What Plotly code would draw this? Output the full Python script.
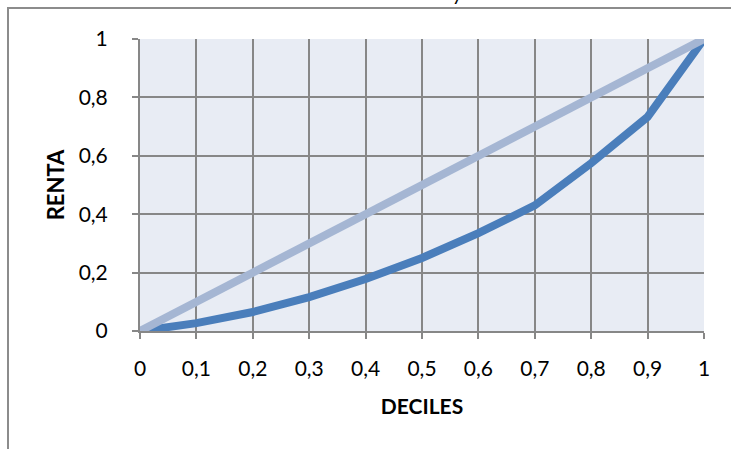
import plotly.graph_objects as go

deciles = [0, 0.05, 0.1, 0.2, 0.3, 0.4, 0.5, 0.6, 0.7, 0.8, 0.9, 1.0]
renta = [0, 0.012, 0.027, 0.065, 0.116, 0.178, 0.25, 0.335, 0.43, 0.575, 0.733, 1.0]
equality_x = [0, 1]
equality_y = [0, 1]
x_ticks = [0, 0.1, 0.2, 0.3, 0.4, 0.5, 0.6, 0.7, 0.8, 0.9, 1]
x_ticktext = ["0", "0,1", "0,2", "0,3", "0,4", "0,5", "0,6", "0,7", "0,8", "0,9", "1"]
y_ticks = [0, 0.2, 0.4, 0.6, 0.8, 1]
y_ticktext = ["0", "0,2", "0,4", "0,6", "0,8", "1"]

FONT = "Lato, 'Open Sans', sans-serif"
GRID = "#878787"
BORDER = "#8C8C8C"

fig = go.Figure()
fig.add_trace(go.Scatter(x=deciles, y=renta, mode="lines",
                         line=dict(color="#4A7EBB", width=8), showlegend=False))
fig.add_trace(go.Scatter(x=equality_x, y=equality_y, mode="lines",
                         line=dict(color="#A5B6D3", width=8), showlegend=False))

bx0 = (8 - 140) / 564
by1 = (331 - 8) / 292
fig.update_layout(
    width=731, height=449,
    margin=dict(l=140, r=27, t=39, b=118),
    paper_bgcolor="white",
    plot_bgcolor="#E8ECF4",
    font=dict(family=FONT, size=21, color="black"),
    showlegend=False,
    shapes=[
        dict(type="line", xref="paper", yref="paper", x0=bx0, x1=(760 - 140) / 564,
             y0=by1, y1=by1, line=dict(color=BORDER, width=2), layer="above"),
        dict(type="line", xref="paper", yref="paper", x0=bx0, x1=bx0,
             y0=(331 - 480) / 292, y1=by1, line=dict(color=BORDER, width=2), layer="above"),
    ],
    annotations=[dict(text="y", xref="paper", yref="paper",
                      x=(457 - 140) / 564, y=(331 + 7) / 292,
                      xanchor="center", yanchor="middle", showarrow=False,
                      font=dict(family=FONT, size=20, color="black"))],
)
fig.update_xaxes(
    range=[0, 1], tickvals=x_ticks, ticktext=x_ticktext,
    showgrid=True, gridcolor=GRID, gridwidth=2,
    zeroline=False, showline=True, linecolor=GRID, linewidth=2,
    ticks="outside", ticklen=6, tickcolor=GRID, tickwidth=2,
    ticklabelstandoff=12,
    title=dict(text="<b>DECILES</b>", font=dict(size=21), standoff=20),
)
fig.update_yaxes(
    range=[0, 1], tickvals=y_ticks, ticktext=y_ticktext,
    showgrid=True, gridcolor=GRID, gridwidth=2,
    zeroline=False, showline=True, linecolor=GRID, linewidth=2,
    ticks="outside", ticklen=6, tickcolor=GRID, tickwidth=2,
    ticklabelstandoff=20,
    title=dict(text="<b>RENTA</b>", font=dict(size=22), standoff=8),
)
frame_js = (
    "document.body.style.margin='0';"
    "document.body.style.overflow='hidden';"
    "var f=document.createElement('div');"
    "f.style.cssText='position:fixed;left:7px;top:7px;width:800px;height:500px;"
    "border-top:2px solid #8C8C8C;border-left:2px solid #8C8C8C;pointer-events:none;';"
    "document.body.appendChild(f);"
)
fig.write_html("out.html", config={"displayModeBar": False}, post_script=frame_js)
